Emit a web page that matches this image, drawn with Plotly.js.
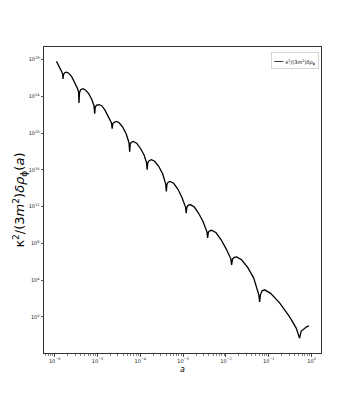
<!DOCTYPE html>
<html>
<head>
<meta charset="utf-8">
<script src="https://cdn.plot.ly/plotly-3.0.1.min.js"></script>
<style>
  html, body { margin: 0; padding: 0; background: #fff; }
  #chart { width: 357px; height: 397px; }
</style>
</head>
<body>
<div id="chart"></div>
<script>
// scale factor a
const aVals = [
    1.10e-6, 1.31e-6, 1.48e-6, 1.54e-6, 1.56e-6, 1.605e-6, 1.71e-6, 1.875e-6, 2.12e-6, 2.49e-6,
    2.93e-6, 3.35e-6, 3.61e-6, 3.69e-6, 3.79e-6, 4.05e-6, 4.58e-6, 5.29e-6, 6.22e-6, 7.31e-6,
    8.27e-6, 8.59e-6, 8.87e-6, 9.56e-6, 1.082e-5, 1.251e-5, 1.47e-5, 1.727e-5, 2.108e-5, 2.20e-5,
    2.27e-5, 2.45e-5, 2.76e-5, 3.21e-5, 3.87e-5, 4.67e-5, 5.43e-5, 5.64e-5, 5.82e-5, 6.21e-5,
    6.81e-5, 8.21e-5, 1.018e-4, 1.229e-4, 1.398e-4, 1.444e-4, 1.492e-4, 1.608e-4, 1.811e-4, 2.163e-4,
    2.68e-4, 3.32e-4, 3.90e-4, 4.05e-4, 4.19e-4, 4.47e-4, 4.92e-4, 6.0e-4, 7.44e-4, 9.23e-4,
    1.132e-3, 1.176e-3, 1.221e-3, 1.309e-3, 1.458e-3, 1.807e-3, 2.30e-3, 2.93e-3, 3.60e-3, 3.73e-3,
    3.88e-3, 4.16e-3, 4.63e-3, 5.90e-3, 7.72e-3, 1.01e-2, 1.30e-2, 1.357e-2, 1.417e-2, 1.552e-2,
    1.776e-2, 2.32e-2, 3.21e-2, 4.43e-2, 5.86e-2, 6.11e-2, 6.38e-2, 6.99e-2, 8.0e-2, 0.1104,
    0.179, 0.2344, 0.3067, 0.435, 0.525, 0.569, 0.651, 0.765, 0.866
];

// kappa^2/(3 m^2) * delta rho_phi
const rhoVals = [
    6.53e27, 1.52e27, 4.35e26, 2.32e26, 7.9e25, 2.32e26, 3.84e26, 4.35e26, 3.38e26, 1.41e26,
    3.54e25, 8.9e24, 3.27e24, 1.92e23, 2.54e24, 5.4e24, 6.93e24, 4.76e24, 1.98e24, 4.98e23,
    9.75e22, 1.31e22, 7.59e22, 1.11e23, 1.25e23, 9.75e22, 3.57e22, 9.0e21, 1.37e21, 3.05e20,
    1.07e21, 1.56e21, 1.90e21, 1.37e21, 4.44e20, 8.69e19, 9.1e18, 9.5e17, 7.08e18, 1.03e19,
    1.26e19, 8.02e18, 2.02e18, 3.95e17, 6.03e16, 1.04e16, 6.03e16, 9.95e16, 1.28e17, 8.77e16,
    2.51e16, 3.82e15, 3.10e14, 4.51e13, 2.74e14, 4.53e14, 5.53e14, 3.52e14, 8.87e13, 1.19e13,
    9.7e11, 1.90e11, 8.55e11, 1.41e12, 1.69e12, 9.7e11, 1.90e11, 2.25e10, 1.84e9, 4.07e8,
    1.62e9, 2.36e9, 2.67e9, 1.43e9, 2.47e8, 2.58e7, 2.10e6, 4.67e5, 1.85e6, 3.06e6,
    3.47e6, 1.64e6, 2.49e5, 1.79e4, 252, 43.5, 252, 687, 883, 366,
    33.8, 5.85, 1.01, 0.064, 4.83e-3, 0.0266, 0.0498, 0.0822, 0.1057
];

// tick positions and labels
const xTickVals = [1e-6, 1e-5, 1e-4, 1e-3, 1e-2, 1e-1, 1];
const xTickText = ['10<sup>−6</sup>', '10<sup>−5</sup>', '10<sup>−4</sup>', '10<sup>−3</sup>',
                   '10<sup>−2</sup>', '10<sup>−1</sup>', '10<sup>0</sup>'];
const yTickVals = [1, 1e4, 1e8, 1e12, 1e16, 1e20, 1e24, 1e28];
const yTickText = ['10<sup>0</sup>', '10<sup>4</sup>', '10<sup>8</sup>', '10<sup>12</sup>',
                   '10<sup>16</sup>', '10<sup>20</sup>', '10<sup>24</sup>', '10<sup>28</sup>'];

const seriesName = 'κ<sup>2</sup>/(3<i>m</i><sup>2</sup>)<i>δρ</i><sub>ϕ</sub>';
const yTitle = 'κ<sup>2</sup>/(3<i>m</i><sup>2</sup>)<i>δρ</i><sub>ϕ</sub>(<i>a</i>)';

const trace = {
    x: aVals,
    y: rhoVals,
    type: 'scatter',
    mode: 'lines',
    name: seriesName,
    line: { color: '#000000', width: 1.3 },
    showlegend: false
};

const axisCommon = {
    type: 'log',
    showgrid: false,
    zeroline: false,
    showline: true,
    mirror: true,
    linecolor: '#333333',
    linewidth: 1,
    ticks: 'outside',
    ticklen: 2.5,
    tickwidth: 0.8,
    tickcolor: '#333333',
    tickfont: { family: 'DejaVu Sans', size: 5, color: '#222222' }
};

const layout = {
    width: 357,
    height: 397,
    margin: { l: 44, r: 36, t: 47, b: 44 },
    paper_bgcolor: '#ffffff',
    plot_bgcolor: '#ffffff',
    font: { family: 'DejaVu Sans', color: '#000000' },
    xaxis: Object.assign({}, axisCommon, {
        range: [-6.25, 0.22],
        tickmode: 'array',
        tickvals: xTickVals,
        ticktext: xTickText,
        minor: { dtick: 'D1', ticks: 'outside', ticklen: 1.5, tickwidth: 0.6, tickcolor: '#333333', showgrid: false },
        title: { text: '<i>a</i>', font: { size: 8 }, standoff: 3 }
    }),
    yaxis: Object.assign({}, axisCommon, {
        range: [-3.93, 29.38],
        tickmode: 'array',
        tickvals: yTickVals,
        ticktext: yTickText
    }),
    annotations: [{
        // y axis title, placed by hand to sit where the reference has it
        xref: 'paper', yref: 'paper',
        x: -0.088, y: 0.5,
        xanchor: 'center', yanchor: 'middle',
        textangle: -90,
        text: yTitle,
        showarrow: false,
        font: { family: 'DejaVu Sans', size: 13, color: '#000000' }
    }, {
        xref: 'paper', yref: 'paper',
        x: 1, y: 1,
        xanchor: 'right', yanchor: 'top',
        xshift: -2, yshift: -5,
        text: '<span style="font-size:10px">—</span> ' + seriesName,
        showarrow: false,
        font: { family: 'DejaVu Sans', size: 5, color: '#000000' },
        bgcolor: '#ffffff',
        bordercolor: '#cccccc',
        borderwidth: 0.8,
        borderpad: 2
    }]
};

Plotly.newPlot('chart', [trace], layout, { displayModeBar: false, staticPlot: true });
</script>
</body>
</html>
